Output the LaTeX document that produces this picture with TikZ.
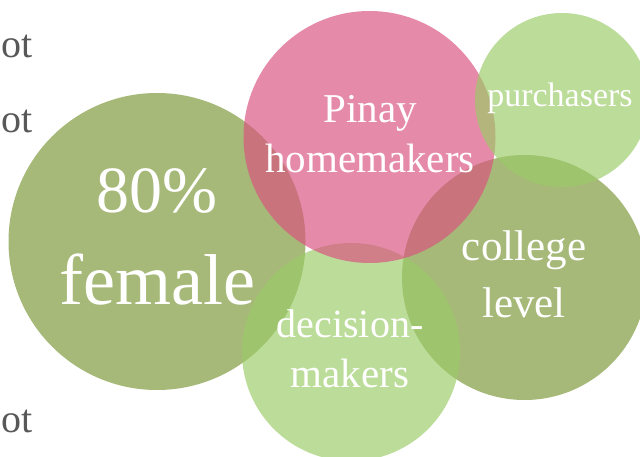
\documentclass[tikz,border=0pt]{standalone}
\usepackage{fontspec}
\setmainfont{Liberation Serif}
\definecolor{cOlive}{RGB}{122,151,54}
\definecolor{cPink}{RGB}{218,81,128}
\definecolor{cLight}{RGB}{155,203,104}
\definecolor{cGrey}{RGB}{88,88,88}
\tikzset{
  blob/.style={circle, inner sep=0pt, fill opacity=0.67, draw=none},
  lbl/.style={text=white, inner sep=0pt, anchor=base},
  frag/.style={text=cGrey, inner sep=0pt, anchor=base west, font=\fontsize{40}{40}\selectfont}
}
\newcommand{\fsz}[1]{\fontsize{#1}{#1}\selectfont}
\begin{document}
\begin{tikzpicture}[x=1pt,y=-1pt]
\useasboundingbox (0,0) rectangle (640,457);
\clip (0,0) rectangle (640,457);
% circles (drawing order matters for the overlaps)
\node[blob, fill=cOlive, minimum size=297pt] (female) at (157,241.5) {};
\node[blob, fill=cOlive, minimum size=245pt] (college) at (524.5,277.5) {};
\node[blob, fill=cLight, minimum size=218pt] (decision) at (351,352) {};
\node[blob, fill=cPink, minimum size=252pt] (pinay) at (369.5,137) {};
\node[blob, fill=cLight, minimum size=174pt] (purch) at (562,100) {};
% text fragments on the left
\node[frag] (ot1) at (1,58) {ot};
\node[frag] (ot2) at (1,133) {ot};
\node[frag] (ot3) at (1,432) {ot};
% labels
\node[lbl, font=\fsz{66}] (t80) at (157,213) {80\%};
\node[lbl, font=\fsz{72}] (tfem) at (157,305) {female};
\node[lbl, font=\fsz{41}] (tpin) at (370,123) {Pinay};
\node[lbl, font=\fsz{41}] (thome) at (370,173) {homemakers};
\node[lbl, font=\fsz{34}] (tpur) at (560,107) {purchasers};
\node[lbl, font=\fsz{43}] (tcol) at (524,261) {college};
\node[lbl, font=\fsz{43}] (tlev) at (524,317) {level};
\node[lbl, font=\fsz{40}] (tdec) at (350,337) {decision-};
\node[lbl, font=\fsz{41}] (tmak) at (350,387) {makers};
\end{tikzpicture}
\end{document}
